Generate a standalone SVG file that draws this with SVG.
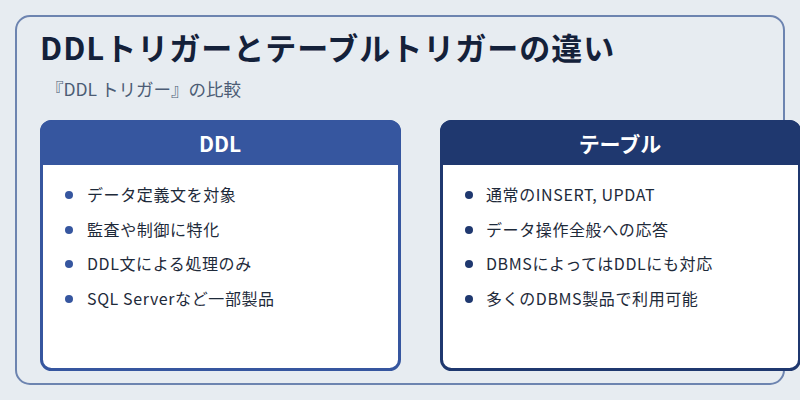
<svg xmlns="http://www.w3.org/2000/svg" width="800" height="400" viewBox="0 0 800 400">
<style>
text{font-family:"Noto Sans CJK JP","Noto Sans",sans-serif}
.hd{font-size:21px;font-weight:bold;fill:#fff;text-anchor:middle}
.it{font-size:16px;fill:#1e2a3a;letter-spacing:0.6px}
</style>
<rect width="800" height="400" fill="#e7ecf1"/>
<rect x="16" y="16" width="768" height="368" rx="14" fill="#e7ecf1" stroke="#6d84b0" stroke-width="2"/>
<text x="40" y="60" font-size="31" font-weight="bold" fill="#14213a" letter-spacing="1">DDLトリガーとテーブルトリガーの違い</text>
<text x="46" y="96" font-size="17.5" fill="#4c5c75">『DDL トリガー』の比較</text>
<g id="ddl">
<rect x="41.5" y="121.5" width="358" height="248" rx="10" fill="#fff" stroke="#36569f" stroke-width="3"/>
<path d="M40 165 V132 A12 12 0 0 1 52 120 H389 A12 12 0 0 1 401 132 V165 Z" fill="#36569f"/>
<text class="hd" x="220" y="152">DDL</text>
<g fill="#36569f"><circle cx="69" cy="195" r="4"/><circle cx="69" cy="230" r="4"/><circle cx="69" cy="264" r="4"/><circle cx="69" cy="299" r="4"/></g>
<text class="it" x="87" y="201">データ定義文を対象</text>
<text class="it" x="87" y="236">監査や制御に特化</text>
<text class="it" x="87" y="270">DDL文による処理のみ</text>
<text class="it" x="87" y="305">SQL Serverなど一部製品</text>
</g>
<g id="table">
<rect x="441.5" y="121.5" width="358" height="248" rx="10" fill="#fff" stroke="#1f386f" stroke-width="3"/>
<path d="M440 165 V132 A12 12 0 0 1 452 120 H789 A12 12 0 0 1 801 132 V165 Z" fill="#1f386f"/>
<text class="hd" x="620" y="152">テーブル</text>
<g fill="#1f386f"><circle cx="469" cy="195" r="4"/><circle cx="469" cy="230" r="4"/><circle cx="469" cy="264" r="4"/><circle cx="469" cy="299" r="4"/></g>
<text class="it" x="486" y="201">通常のINSERT, UPDAT</text>
<text class="it" x="486" y="236">データ操作全般への応答</text>
<text class="it" x="486" y="270">DBMSによってはDDLにも対応</text>
<text class="it" x="486" y="305">多くのDBMS製品で利用可能</text>
</g>
<g id="connectors"/>
</svg>
